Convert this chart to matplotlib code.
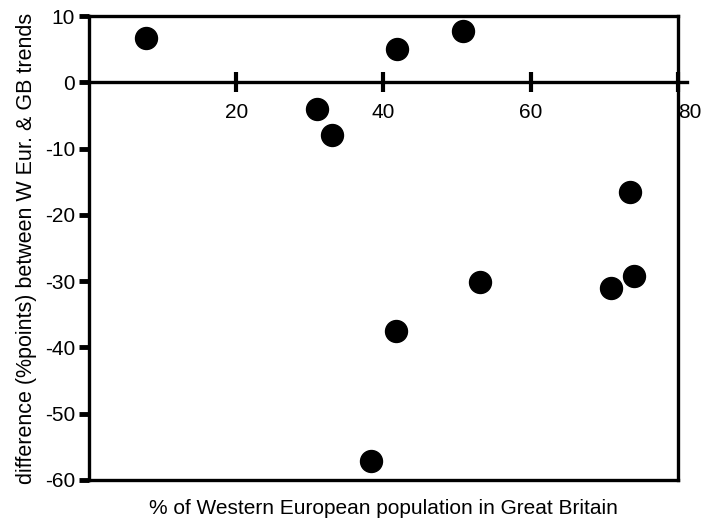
import matplotlib
matplotlib.use("Agg")
from matplotlib import pyplot as plt

# share of W. European population in GB vs. difference between trends
pct_gb = [7.7, 31.0, 33.0, 41.8, 50.8, 53.1, 41.7, 38.3, 70.9, 74.0, 73.5]
diff_pts = [6.7, -4.1, -8.0, 5.0, 7.7, -30.1, -37.5, -57.2, -31.1, -29.2, -16.6]

x_ticks = [20, 40, 60, 80]
y_ticks = [10, 0, -10, -20, -30, -40, -50, -60]

plt.rcParams['font.family'] = ['Liberation Sans', 'DejaVu Sans']

fig = plt.figure(figsize=(7.08, 5.22), dpi=100)
ax = fig.add_axes([0.1257, 0.0805, 0.8319, 0.8888])

ax.scatter(pct_gb, diff_pts, s=250, color='black', zorder=3, clip_on=False)

ax.set_xlim(0, 80)
ax.set_ylim(-60, 10)

for sp in ax.spines.values():
    sp.set_linewidth(2.4)

# zero line that carries the x ticks
ax.axhline(0, color='black', lw=2.4, xmax=1.015, clip_on=False)
ax.set_xticks([])
sec = ax.secondary_xaxis(60 / 70)
sec.xaxis.set_ticks_position('bottom')
sec.xaxis.set_label_position('bottom')
for sp in sec.spines.values():
    sp.set_visible(False)
sec.set_xticks(x_ticks)
sec.set_xticklabels([str(t) for t in x_ticks], fontsize=15)
sec.tick_params(axis='x', direction='inout', length=14, width=3, pad=8)
sec.get_xticklabels()[-1].set_horizontalalignment('left')

ax.set_yticks(y_ticks)
ax.set_yticklabels([str(t) for t in y_ticks], fontsize=15)
ax.tick_params(axis='y', direction='out', length=7, width=3.5, pad=3)

ax.set_ylabel("difference (%points) between W Eur. & GB trends", fontsize=15.5, labelpad=6)
ax.set_xlabel("% of Western European population in Great Britain", fontsize=15, labelpad=14)

fig.savefig("out.png", dpi=100)
